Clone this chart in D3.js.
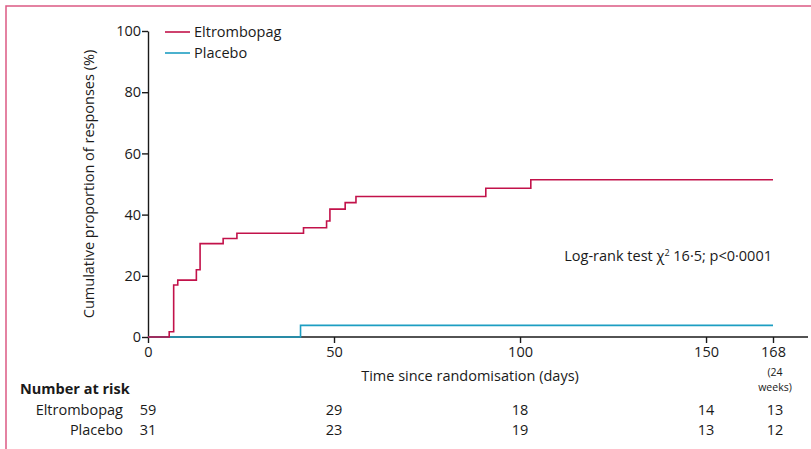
<!DOCTYPE html>
<html><head><meta charset="utf-8">
<script src="https://cdn.jsdelivr.net/npm/d3@7"></script>
<style>
body{margin:0;background:#fff;}
svg text{font-family:"Open Sans",sans-serif;fill:#1a1a1a;}
</style></head>
<body><svg id="c" width="811" height="449"></svg>
<script>
const eltroDays   = [0, 5.7, 6.9, 8.0, 13.0, 14.0, 20.2, 23.9, 41.8, 48.0, 48.9, 53.0, 55.9, 90.8, 102.9, 168];
const eltroValues = [0, 1.7, 17.0, 18.6, 22.0, 30.5, 32.2, 33.9, 35.7, 37.9, 41.8, 43.9, 45.9, 48.6, 51.4, 51.4];
const placeboDays   = [0, 41.0, 168];
const placeboValues = [0, 3.8, 3.8];
const xTicks = [0, 50, 100, 150, 168];
const yTicks = [0, 20, 40, 60, 80, 100];
const riskGroups = ["Eltrombopag", "Placebo"];
const riskDays = [0, 50, 100, 150, 168];
const riskEltro = [59, 29, 18, 14, 13];
const riskPlacebo = [31, 23, 19, 13, 12];
const colors = {Eltrombopag: "#c2124a", Placebo: "#1d9ec2"};

const svg = d3.select("#c");
// frame
svg.append("path").attr("d","M6,449 L6,6 L811,6").attr("fill","none").attr("stroke","#dc5a84").attr("stroke-width",1.5);

const x = d3.scaleLinear().domain([0,168]).range([148,773]);
const y = d3.scaleLinear().domain([0,100]).range([337,31]);

// x axis
const gx = svg.append("g").attr("transform","translate(0,337)");
gx.append("line").attr("x1",148).attr("x2",808).attr("stroke","#1a1a1a").attr("stroke-width",1.4);
gx.call(d3.axisBottom(x).tickValues(xTicks).tickSize(6).tickSizeOuter(0).tickFormat(d3.format("d")));
gx.select(".domain").remove();
gx.selectAll(".tick line").attr("stroke","#1a1a1a").attr("stroke-width",1.4);
gx.selectAll(".tick text").attr("font-size",14.5).attr("dy","0.78em").attr("font-family","Open Sans");

// y axis
const gy = svg.append("g").attr("transform","translate(148,0)");
gy.call(d3.axisLeft(y).tickValues(yTicks).tickSize(6).tickSizeOuter(0));
gy.select(".domain").attr("stroke","#1a1a1a").attr("stroke-width",1.4);
gy.selectAll(".tick line").attr("stroke","#1a1a1a").attr("stroke-width",1.4);
gy.selectAll(".tick text").attr("font-size",14.5).attr("x",-7).attr("font-family","Open Sans");

svg.append("text").attr("transform","translate(94,184) rotate(-90)").attr("text-anchor","middle")
  .attr("font-size",14.5).text("Cumulative proportion of responses (%)");
svg.append("text").attr("x",470).attr("y",381).attr("text-anchor","middle").attr("font-size",14.5)
  .text("Time since randomisation (days)");
svg.append("text").attr("x",x(168)+2).attr("y",376).attr("text-anchor","middle").attr("font-size",10.5).text("(24");
svg.append("text").attr("x",x(168)+2).attr("y",391).attr("text-anchor","middle").attr("font-size",10.5).text("weeks)");

// curves
const line = d3.line().curve(d3.curveStepAfter).x(d=>x(d[0])).y(d=>y(d[1]));
svg.append("path").datum(placeboDays.map((d,i)=>[d,placeboValues[i]]))
  .attr("d",line).attr("fill","none").attr("stroke",colors.Placebo).attr("stroke-width",1.6);
svg.append("path").datum(eltroDays.map((d,i)=>[d,eltroValues[i]]))
  .attr("d",line).attr("fill","none").attr("stroke",colors.Eltrombopag).attr("stroke-width",1.6);

// legend
riskGroups.forEach((g,i)=>{
  const ly = 32 + i*21;
  svg.append("line").attr("x1",165).attr("x2",190).attr("y1",ly).attr("y2",ly).attr("stroke",colors[g]).attr("stroke-width",1.6);
  svg.append("text").attr("x",194).attr("y",ly).attr("dy","0.35em").attr("font-size",14.5).text(g);
});

const lr = svg.append("text").attr("x",772).attr("y",261).attr("text-anchor","end").attr("font-size",14.5);
lr.append("tspan").text("Log-rank test χ");
lr.append("tspan").attr("font-size",9).attr("dy",-5).text("2");
lr.append("tspan").attr("dy",5).text(" 16·5; p<0·0001");

// number at risk
svg.append("text").attr("x",20).attr("y",394).attr("font-size",14.5).attr("font-weight","bold").text("Number at risk");
[riskEltro, riskPlacebo].forEach((vals,i)=>{
  const ry = 415 + i*20;
  svg.append("text").attr("x",123).attr("y",ry).attr("text-anchor","end").attr("font-size",14.5).text(riskGroups[i]);
  vals.forEach((v,j)=>{
    svg.append("text").attr("x",x(riskDays[j])+(j===4?2:0)).attr("y",ry).attr("text-anchor","middle").attr("font-size",14.5).text(v);
  });
});
</script></body></html>
